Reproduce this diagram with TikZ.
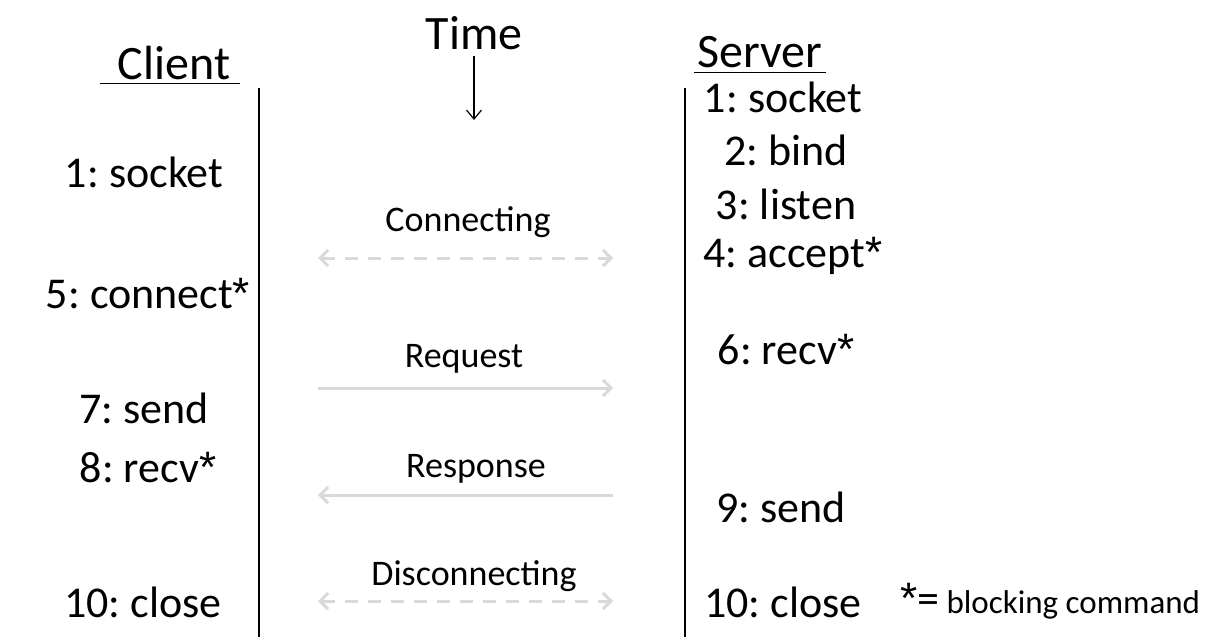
\documentclass[tikz,border=0pt]{standalone}
\usepackage{fontspec}
\setmainfont{Carlito}
\newfontfamily\astfont{Liberation Sans}
\usetikzlibrary{arrows.meta}
\usepackage{xcolor}
\definecolor{mgray}{RGB}{217,217,217}
\frenchspacing
\newcommand\blkast{{\astfont *}}

\begin{document}
\begin{tikzpicture}[x=1pt, y=-1pt,
    step label/.style={font=\fontsize{44}{46}\selectfont, inner sep=0pt},
    msg label/.style={font=\fontsize{36}{38}\selectfont, inner sep=0pt},
    head label/.style={font=\fontsize{48}{50}\selectfont, inner sep=0pt},
    lifeline/.style={draw, line width=1.5pt},
    msg/.style={draw=mgray, line width=3pt, arrows={-Straight Barb[length=8pt, width=16pt]}},
    msgboth/.style={msg, dashed, dash pattern=on 13pt off 10pt, arrows={Straight Barb[length=8pt, width=16pt]-Straight Barb[length=8pt, width=16pt]}},
]
\useasboundingbox (0,0) rectangle (1224,642);

% headers
\node[head label] (time) at (474,33) {Time};
\node[head label] (client) at (174,63) {Client};
\node[head label] (server) at (760,52) {Server};
\coordinate (timetop) at (474,56);
\coordinate (timebot) at (474,120);
\draw[-{Straight Barb[length=9pt, width=15pt]}, line width=1.2pt] (timetop) -- (timebot);
\coordinate (clientulL) at (100,84);
\coordinate (clientulR) at (240,84);
\coordinate (serverulL) at (694,73);
\coordinate (serverulR) at (826,73);
\draw[line width=1pt] (clientulL) -- (clientulR);
\draw[line width=1pt] (serverulL) -- (serverulR);

% lifelines
\coordinate (clienttop) at (259,88);
\coordinate (clientbot) at (259,637);
\coordinate (servertop) at (685,88);
\coordinate (serverbot) at (685,637);
\draw[lifeline] (clienttop) -- (clientbot);
\draw[lifeline] (servertop) -- (serverbot);

% client steps
\node[step label] (csocket) at (144,172) {1: socket};
\node[step label] (cconnect) at (148,294) {5: connect\blkast};
\node[step label] (csend) at (144,408) {7: send};
\node[step label] (crecv) at (148,468) {8: recv\blkast};
\node[step label] (cclose) at (143,602) {10: close};

% server steps
\node[step label] (ssocket) at (783,97) {1: socket};
\node[step label] (sbind) at (786,150) {2: bind};
\node[step label] (slisten) at (786,204) {3: listen};
\node[step label] (saccept) at (793,256) {4: accept\blkast};
\node[step label] (srecv) at (786,350) {6: recv\blkast};
\node[step label] (ssend) at (781,507) {9: send};
\node[step label] (sclose) at (783,602) {10: close};

% messages
\coordinate (connL) at (318,258);
\coordinate (connR) at (613,258);
\coordinate (reqL) at (318,388);
\coordinate (reqR) at (613,388);
\coordinate (respL) at (318,495);
\coordinate (respR) at (613,495);
\coordinate (discL) at (318,601);
\coordinate (discR) at (613,601);
\draw[msgboth] (connL) -- (connR);
\draw[msg] (reqL) -- (reqR);
\draw[msg] (respR) -- (respL);
\draw[msgboth] (discL) -- (discR);
\node[msg label] (connecting) at (468,222) {Connecting};
\node[msg label] (request) at (464,359) {Request};
\node[msg label] (response) at (476,469) {Response};
\node[msg label] (disconnecting) at (474,576) {Disconnecting};

% legend
\node[anchor=west, inner sep=0pt, font=\fontsize{44}{46}\selectfont] (legend) at (900,601)
  {\blkast=\,{\fontsize{33}{35}\selectfont blocking command}};

\end{tikzpicture}
\end{document}
